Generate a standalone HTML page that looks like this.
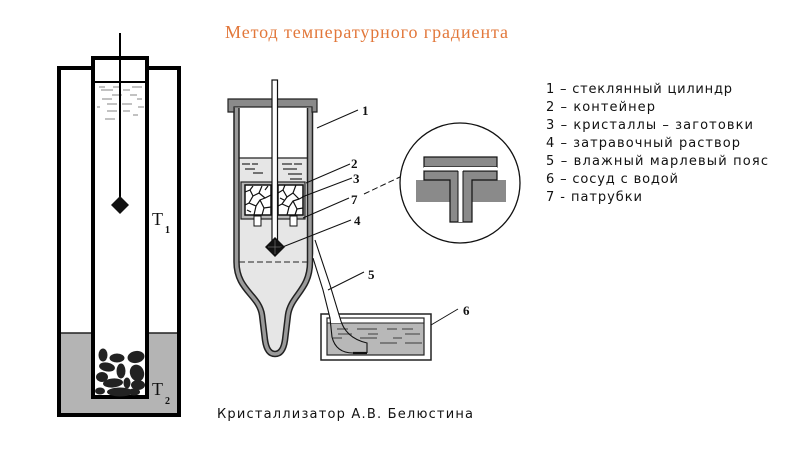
<!DOCTYPE html>
<html><head><meta charset="utf-8"><style>
html,body{margin:0;padding:0;background:#fff;}
svg{display:block;}
</style></head><body>
<svg width="800" height="449" viewBox="0 0 800 449" xmlns="http://www.w3.org/2000/svg">
<rect width="800" height="449" fill="#fff"/>
<!-- Title -->
<text x="225" y="38" font-family="Liberation Serif, serif" font-size="18" fill="#e2773a" textLength="283">Метод температурного градиента</text>

<!-- LEFT APPARATUS -->
<rect x="59" y="333" width="120" height="82" fill="#b4b4b4"/>
<rect x="93" y="58" width="54" height="339" fill="#fff"/>
<line x1="59" y1="333" x2="93" y2="333" stroke="#222" stroke-width="1.5"/>
<line x1="147" y1="333" x2="179" y2="333" stroke="#222" stroke-width="1.5"/>
<path d="M93,68 L59,68 L59,415 L179,415 L179,68 L147,68" fill="none" stroke="#000" stroke-width="4" stroke-linejoin="miter"/>
<rect x="93" y="58" width="54" height="339" fill="none" stroke="#000" stroke-width="4"/>
<line x1="93" y1="82" x2="147" y2="82" stroke="#000" stroke-width="2"/>
<g stroke="#9a9a9a" stroke-width="1.2">
<line x1="99" y1="87" x2="105" y2="87"/><line x1="113" y1="87" x2="120" y2="87"/><line x1="132" y1="87" x2="142" y2="87"/>
<line x1="101" y1="90" x2="113" y2="90"/><line x1="123" y1="90" x2="130" y2="90"/>
<line x1="112" y1="95" x2="122" y2="95"/><line x1="130" y1="95" x2="137" y2="95"/>
<line x1="102" y1="99" x2="112" y2="99"/><line x1="137" y1="99" x2="142" y2="99"/>
<line x1="107" y1="104" x2="117" y2="104"/><line x1="122" y1="104" x2="132" y2="104"/>
<line x1="97" y1="107" x2="100" y2="107"/><line x1="138" y1="107" x2="144" y2="107"/>
<line x1="107" y1="111" x2="117" y2="111"/><line x1="123" y1="111" x2="130" y2="111"/>
<line x1="133" y1="115" x2="138" y2="115"/>
<line x1="105" y1="119" x2="115" y2="119"/>
</g>
<line x1="120" y1="33" x2="120" y2="200" stroke="#000" stroke-width="2"/>
<polygon points="120,196 129,205 120,214 111,205" fill="#111"/>
<g fill="#222">
<ellipse cx="103" cy="355" rx="4.5" ry="6.5"/>
<ellipse cx="117" cy="358" rx="7.5" ry="4.5"/>
<ellipse cx="136" cy="357" rx="8.5" ry="6" transform="rotate(-10 136 357)"/>
<ellipse cx="107" cy="367" rx="8" ry="4.5" transform="rotate(10 107 367)"/>
<ellipse cx="121" cy="371" rx="4.5" ry="7.5"/>
<ellipse cx="137" cy="373" rx="7" ry="8.5" transform="rotate(-20 137 373)"/>
<ellipse cx="102" cy="377" rx="6" ry="5"/>
<ellipse cx="113" cy="383" rx="10" ry="4.5" transform="rotate(-5 113 383)"/>
<ellipse cx="127" cy="383" rx="3.5" ry="5.5"/>
<ellipse cx="138" cy="385" rx="7" ry="5"/>
<ellipse cx="100" cy="391" rx="5" ry="3.5"/>
<ellipse cx="120" cy="392" rx="13" ry="4.5"/>
<ellipse cx="134" cy="392" rx="6" ry="3.5"/>
</g>
<text x="152" y="225" font-family="Liberation Serif, serif" font-size="18" fill="#111">T</text>
<text x="165" y="233" font-family="Liberation Serif, serif" font-size="10" font-weight="bold" fill="#111">1</text>
<text x="152" y="395" font-family="Liberation Serif, serif" font-size="18" fill="#111">T</text>
<text x="165" y="404" font-family="Liberation Serif, serif" font-size="10" font-weight="bold" fill="#111">2</text>

<!-- MIDDLE APPARATUS -->
<path d="M236.5,158 L236.5,262 C236.5,290 259,295 262,315 L265,340 Q267,354 275,354 Q283,354 285,340 L288,315 C291,295 310,290 310,262 L310,158 Z" fill="#e6e6e6"/>
<path d="M236.5,108 L236.5,262 C236.5,290 259,295 262,315 L265,340 Q267,354 275,354 Q283,354 285,340 L288,315 C291,295 310,290 310,262 L310,108" fill="none" stroke="#222" stroke-width="6.5"/>
<path d="M236.5,108 L236.5,262 C236.5,290 259,295 262,315 L265,340 Q267,354 275,354 Q283,354 285,340 L288,315 C291,295 310,290 310,262 L310,108" fill="none" stroke="#9a9a9a" stroke-width="3.5"/>
<line x1="239" y1="158" x2="308" y2="158" stroke="#222" stroke-width="1.2"/>
<line x1="239" y1="262" x2="308" y2="262" stroke="#222" stroke-width="1" stroke-dasharray="6,3"/>
<path d="M228,99 L317,99 L317,112 L312,112 L312,107 L234,107 L234,112 L228,112 Z" fill="#8a8a8a" stroke="#222" stroke-width="1.2"/>
<g stroke="#333" stroke-width="1.3">
<line x1="242" y1="164" x2="250" y2="164"/><line x1="252" y1="164" x2="258" y2="164"/><line x1="282" y1="164" x2="292" y2="164"/><line x1="294" y1="164" x2="302" y2="164"/>
<line x1="245" y1="169" x2="255" y2="169"/><line x1="283" y1="169" x2="297" y2="169"/>
<line x1="253" y1="173" x2="263" y2="173"/><line x1="288" y1="174" x2="302" y2="174"/>
<line x1="290" y1="179" x2="302" y2="179"/>
</g>
<!-- container 2 -->
<rect x="241" y="182" width="64" height="37" fill="#b8b8b8" stroke="#222" stroke-width="1.2"/>
<rect x="245" y="185" width="26" height="30" fill="#fff" stroke="#111" stroke-width="1.5"/>
<rect x="278" y="185" width="25" height="30" fill="#fff" stroke="#111" stroke-width="1.5"/>
<g fill="none" stroke="#111" stroke-width="1.2">
<polyline points="245,192 250,190 253,186"/><polyline points="250,190 253,196 259,193 262,186"/><polyline points="253,196 249,203 245,205"/>
<polyline points="259,193 265,198 271,195"/><polyline points="249,203 256,206 260,200 265,198"/><polyline points="256,206 254,215"/>
<polyline points="260,200 264,208 271,207"/><polyline points="264,208 262,215"/><polyline points="265,190 268,186"/>
<polyline points="278,193 283,190 285,185"/><polyline points="283,190 287,197 293,193 296,185"/><polyline points="287,197 282,204 278,206"/>
<polyline points="293,193 299,199 303,197"/><polyline points="282,204 289,207 293,201 299,199"/><polyline points="289,207 287,215"/>
<polyline points="293,201 297,209 303,208"/><polyline points="297,209 295,215"/>
<polyline points="247,210 251,212"/><polyline points="280,198 284,200"/>
</g>
<rect x="254" y="216" width="7" height="10" fill="#fff" stroke="#111" stroke-width="1"/>
<rect x="290" y="216" width="7" height="10" fill="#fff" stroke="#111" stroke-width="1"/>
<rect x="272" y="80" width="5.5" height="162" fill="#fff" stroke="#111" stroke-width="1.2"/>
<polygon points="275,237 285,247 275,257 265,247" fill="#111"/>
<line x1="275" y1="240" x2="275" y2="254" stroke="#666" stroke-width="0.8"/>
<line x1="268" y1="247" x2="282" y2="247" stroke="#666" stroke-width="0.8"/>

<!-- container 6 -->
<rect x="321" y="314" width="110" height="46" fill="#fff" stroke="#222" stroke-width="1.5"/>
<rect x="327" y="323" width="97" height="32" fill="#b8b8b8"/>
<rect x="327" y="318" width="97" height="37" fill="none" stroke="#222" stroke-width="1.2"/>
<line x1="327" y1="323" x2="424" y2="323" stroke="#222" stroke-width="1"/>
<g stroke="#555" stroke-width="1.2">
<line x1="337" y1="329" x2="348" y2="329"/><line x1="357" y1="329" x2="377" y2="329"/><line x1="387" y1="329" x2="397" y2="329"/><line x1="402" y1="329" x2="413" y2="329"/>
<line x1="338" y1="334" x2="352" y2="334"/><line x1="368" y1="334" x2="378" y2="334"/><line x1="405" y1="334" x2="420" y2="334"/>
<line x1="333" y1="338" x2="342" y2="338"/><line x1="360" y1="338" x2="377" y2="338"/><line x1="393" y1="338" x2="402" y2="338"/>
<line x1="380" y1="343" x2="397" y2="343"/><line x1="405" y1="343" x2="422" y2="343"/>
</g>
<!-- wick -->
<defs><clipPath id="top"><rect x="300" y="230" width="100" height="93"/></clipPath></defs>
<path d="M313,258 L323,290 L330,318 L332,337 Q336,353 353,353 L367,353 L367,343 Q345,335 340,318 L330,285 L315,240 Z" fill="#fff" clip-path="url(#top)"/>
<path d="M313,258 L323,290 L330,318 L332,337 Q336,353 353,353" fill="none" stroke="#111" stroke-width="1.1"/>
<path d="M315,240 L330,285 L340,318 Q345,338 367,343 L367,353" fill="none" stroke="#111" stroke-width="1.1"/>
<line x1="353" y1="353" x2="367" y2="353" stroke="#111" stroke-width="2.2"/>

<!-- labels -->
<g stroke="#111" stroke-width="1">
<line x1="317" y1="128" x2="358" y2="110"/>
<line x1="306" y1="183" x2="350" y2="164"/>
<line x1="302" y1="197" x2="352" y2="178"/>
<line x1="303" y1="218" x2="349" y2="198"/>
<line x1="280" y1="248" x2="351" y2="220"/>
<line x1="328" y1="290" x2="364" y2="272"/>
<line x1="431" y1="325" x2="458" y2="309"/>
<line x1="364" y1="194" x2="400" y2="177" stroke-dasharray="6,3"/>
</g>
<g font-family="Liberation Serif, serif" font-size="13" font-weight="bold" fill="#111">
<text x="362" y="115">1</text>
<text x="351" y="168">2</text>
<text x="353" y="183">3</text>
<text x="351" y="204">7</text>
<text x="354" y="225">4</text>
<text x="368" y="279">5</text>
<text x="463" y="315">6</text>
</g>

<!-- circle detail -->
<circle cx="460" cy="183" r="60" fill="#fff" stroke="#111" stroke-width="1.3"/>
<rect x="416" y="180" width="90" height="22" fill="#8a8a8a"/>
<rect x="424" y="157" width="73" height="10" fill="#8a8a8a" stroke="#111" stroke-width="1.2"/>
<path d="M424,171 L497,171 L497,180 L472,180 L472,222 L450,222 L450,180 L424,180 Z" fill="#8a8a8a" stroke="#111" stroke-width="1.2"/>
<rect x="424" y="167" width="73" height="4" fill="#fff"/>
<rect x="458" y="167" width="5" height="55" fill="#fff"/>
<g stroke="#111" stroke-width="1">
<line x1="458" y1="171" x2="458" y2="222"/>
<line x1="463" y1="171" x2="463" y2="222"/>
<line x1="424" y1="171" x2="458" y2="171"/>
<line x1="463" y1="171" x2="497" y2="171"/>
</g>

<!-- legend -->
<g font-family="DejaVu Sans, sans-serif" font-size="13" fill="#111">
<text x="546" y="93" textLength="186">1 – стеклянный цилиндр</text>
<text x="546" y="111" textLength="109">2 – контейнер</text>
<text x="546" y="129" textLength="207">3 – кристаллы – заготовки</text>
<text x="546" y="147" textLength="194">4 – затравочный раствор</text>
<text x="546" y="165" textLength="222">5 – влажный марлевый пояс</text>
<text x="546" y="183" textLength="132">6 – сосуд с водой</text>
<text x="546" y="201" textLength="96">7 - патрубки</text>
</g>
<text x="217" y="418" font-family="DejaVu Sans, sans-serif" font-size="13" fill="#111" textLength="256">Кристаллизатор А.В. Белюстина</text>
</svg>
</body></html>
